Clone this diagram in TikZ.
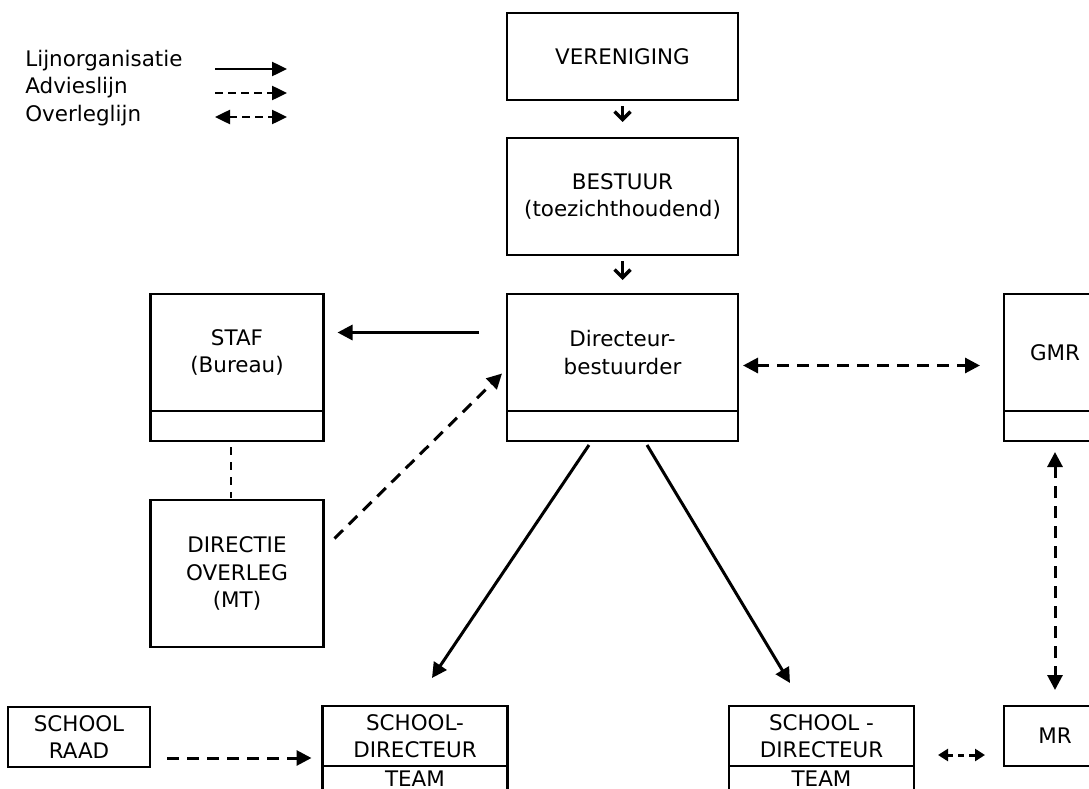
\documentclass[tikz,border=0pt]{standalone}
\usepackage{fontspec}
\setmainfont{DejaVu Sans}
\usetikzlibrary{arrows.meta,positioning}

\begin{document}
\begin{tikzpicture}[x=0.2mm,y=-0.2mm,font=\fontsize{12.2}{15.4}\selectfont,
  box/.style={draw,line width=0.45mm,align=center,inner sep=0pt,outer sep=0pt},
  line/.style={line width=0.6mm,-{Triangle[length=3mm,width=3mm]}},
  advies/.style={line,dash pattern=on 2.4mm off 1.6mm},
  overleg/.style={advies,{Triangle[length=3mm,width=3mm]}-{Triangle[length=3mm,width=3mm]}},
  down/.style={line width=0.7mm,-{Straight Barb[length=1.6mm,width=3.2mm]}},
  key/.style={line width=0.5mm,-{Triangle[length=3mm,width=2.8mm]}},
  keydash/.style={key,dash pattern=on 1.6mm off 1mm}]
  \useasboundingbox (0,0) rectangle (1089,789);
  \clip (0,0) rectangle (1089,789);

  % legenda
  \node[anchor=base west,inner sep=0pt] (lijn) at (25,66) {Lijnorganisatie};
  \node[anchor=base west,inner sep=0pt] (advies) at (25,93.5) {Advieslijn};
  \node[anchor=base west,inner sep=0pt] (overleg) at (25,121) {Overleglijn};
  \coordinate (k1a) at (215,69);  \coordinate (k1b) at (287,69);
  \coordinate (k2a) at (215,93);  \coordinate (k2b) at (287,93);
  \coordinate (k3a) at (215,117); \coordinate (k3b) at (287,117);
  \draw[key] (k1a) -- (k1b);
  \draw[keydash] (k2a) -- (k2b);
  \draw[keydash,{Triangle[length=3mm,width=2.8mm]}-{Triangle[length=3mm,width=2.8mm]}] (k3a) -- (k3b);

  \node[box,minimum width=46.2mm,minimum height=17.4mm] (veren) at (622.5,56.5) {VERENIGING};
  \node[box,minimum width=46.2mm,minimum height=23.4mm] (bestuur) at (622.5,196.5) {BESTUUR\\(toezichthoudend)};

  \node[box,minimum width=46.2mm,minimum height=23.4mm] (dir) at (622.5,352.5) {Directeur-\\bestuurder};
  \node[box,minimum width=46.2mm,minimum height=6mm,below=0pt of dir] (dirlow) {};
  \node[box,minimum width=34.6mm,minimum height=23.4mm] (staf) at (237,352.5) {STAF\\(Bureau)};
  \node[box,minimum width=34.6mm,minimum height=6mm,below=0pt of staf] (staflow) {};
  \node[box,minimum width=20.4mm,minimum height=23.4mm] (gmr) at (1055,352.5) {GMR};
  \node[box,minimum width=20.4mm,minimum height=6mm,below=0pt of gmr] (gmrlow) {};

  \node[box,minimum width=34.6mm,minimum height=29.4mm] (mt) at (237,573.5) {DIRECTIE\\OVERLEG\\(MT)};

  \node[box,minimum width=28.4mm,minimum height=12mm] (raad) at (79,737) {SCHOOL\\RAAD};
  \node[box,minimum width=37mm,minimum height=12mm] (school1) at (415,736) {SCHOOL-\\DIRECTEUR};
  \node[box,minimum width=37mm,minimum height=6mm,below=0pt of school1] (low1) {};
  \node[inner sep=0pt,below=0.9mm of school1] (team1) {TEAM};
  \node[box,minimum width=37mm,minimum height=12mm] (school2) at (821.5,736) {SCHOOL -\\DIRECTEUR};
  \node[box,minimum width=37mm,minimum height=6mm,below=0pt of school2] (low2) {};
  \node[inner sep=0pt,below=0.9mm of school2] (team2) {TEAM};
  \node[box,minimum width=20.4mm,minimum height=12mm] (mr) at (1055,736) {MR};

  \draw[down,shorten <=1.2mm,shorten >=3.2mm] (veren) -- (bestuur);
  \draw[down,shorten <=1.2mm,shorten >=2.8mm] (bestuur) -- (dir);
  \draw[line,shorten <=5.6mm,shorten >=2.8mm] ([yshift=4mm]dir.west) -- ([yshift=4mm]staf.east);
  \draw[advies] ([shift={(11,-35)}]mt.east) -- ([shift={(-5,21)}]dir.west);
  \draw[line width=0.35mm,dash pattern=on 1.6mm off 1.4mm,shorten <=1.2mm,shorten >=0.4mm] ([xshift=-1.2mm]staflow.south) -- ([xshift=-1.2mm]mt.north);
  \draw[overleg] ([shift={(5,13)}]dir.east) -- ([shift={(-24,13)}]gmr.west);
  \draw[overleg,shorten <=2.2mm,shorten >=3.2mm] (gmrlow.south) -- (mr.north);
  \draw[line] ([shift={(-33.5,4)}]dirlow.south) -- ([shift={(17,-28)}]school1.north);
  \draw[line] ([shift={(24.5,4)}]dirlow.south) -- ([shift={(-31.5,-23)}]school2.north);
  \draw[advies,shorten <=3.4mm,shorten >=2.2mm] ([yshift=-4.2mm]raad.east) -- ([yshift=-4.2mm]raad.east -| school1.west);
  \draw[overleg,{Triangle[length=2mm,width=2.4mm]}-{Triangle[length=2mm,width=2.4mm]},dash pattern=on 1.2mm off 1mm,shorten <=4.8mm,shorten >=3.8mm] ([yshift=-3.8mm]school2.east) -- ([yshift=-3.8mm]mr.west);
\end{tikzpicture}
\end{document}
